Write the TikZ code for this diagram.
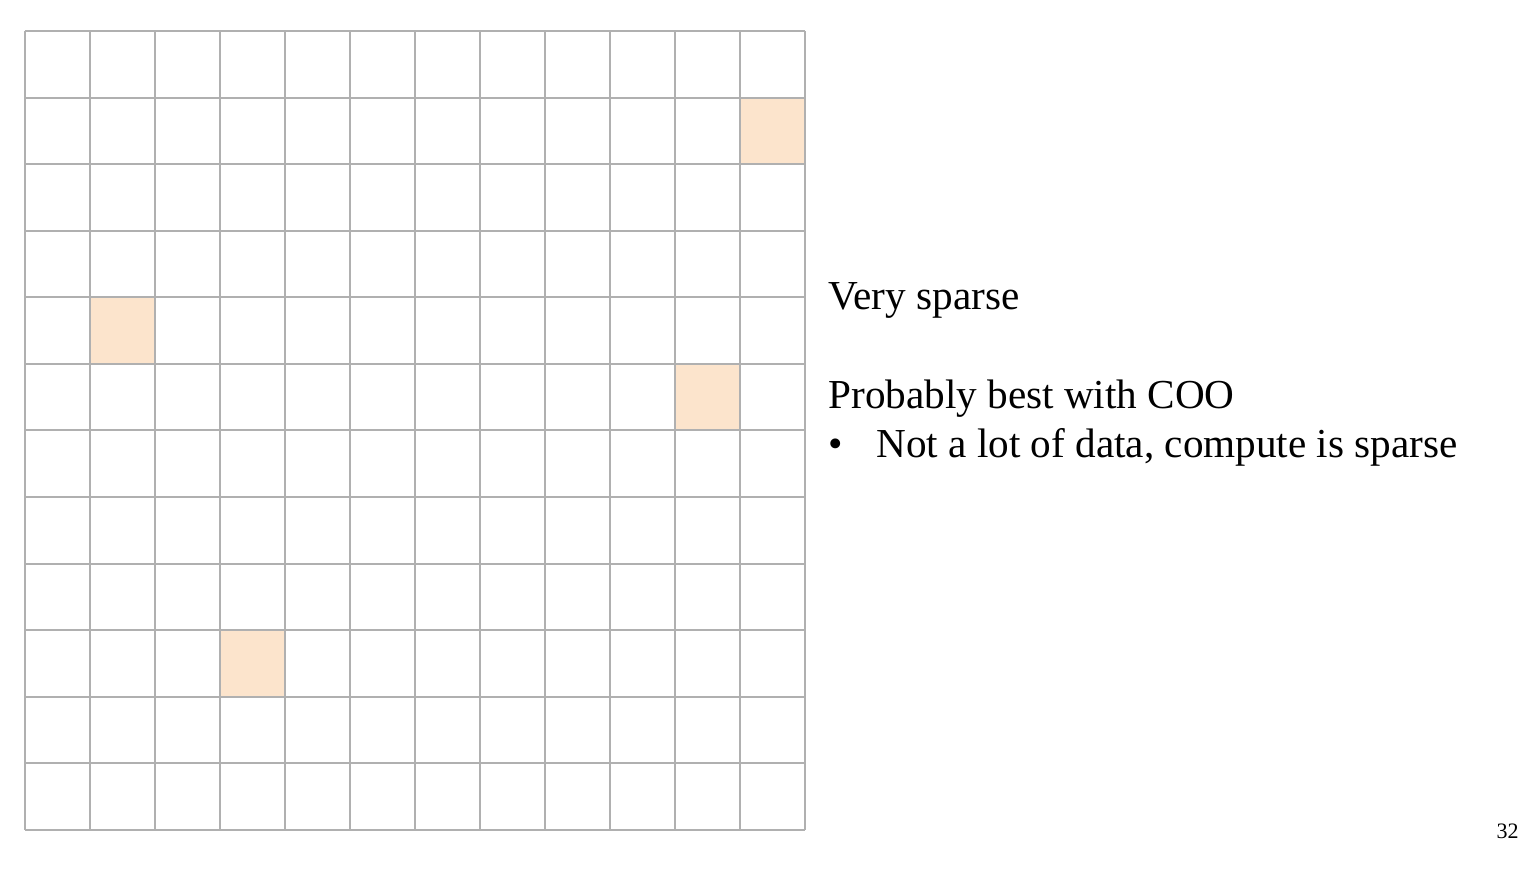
\documentclass[tikz,border=0pt]{standalone}
\usepackage{fontspec}
\setmainfont{Liberation Serif}
\definecolor{cellfill}{HTML}{FCE4CC}
\definecolor{gridline}{HTML}{B0B0B0}

\begin{document}
\begin{tikzpicture}[x=0.5pt,y=-0.5pt,font=\fontsize{20.6}{24}\selectfont]
\useasboundingbox (0,0) rectangle (1530,868);
\foreach \c/\r in {11/1,1/4,10/5,3/9}{
\fill[cellfill] (25+65*\c,31+66.58*\r) rectangle (90+65*\c,97.58+66.58*\r);}
\foreach \k in {0,...,12}{
\draw[gridline,line width=1pt] (25+65*\k,31)--(25+65*\k,830);
\draw[gridline,line width=1pt] (25,31+66.58*\k)--(805,31+66.58*\k);}
\node[anchor=base west,inner sep=0pt] (sparse) at (828,309) {Very sparse};
\node[anchor=base west,inner sep=0pt] (best) at (828,408) {Probably best with COO};
\node[anchor=base west,inner sep=0pt] (dot) at (828,457) {\textbullet};
\node[anchor=base west,inner sep=0pt] (reason) at (876,457) {Not a lot of data, compute is sparse};
\node[anchor=base east,inner sep=0pt,font=\fontsize{11}{13}\selectfont] (page) at (1519,838) {32};
\end{tikzpicture}
\end{document}
